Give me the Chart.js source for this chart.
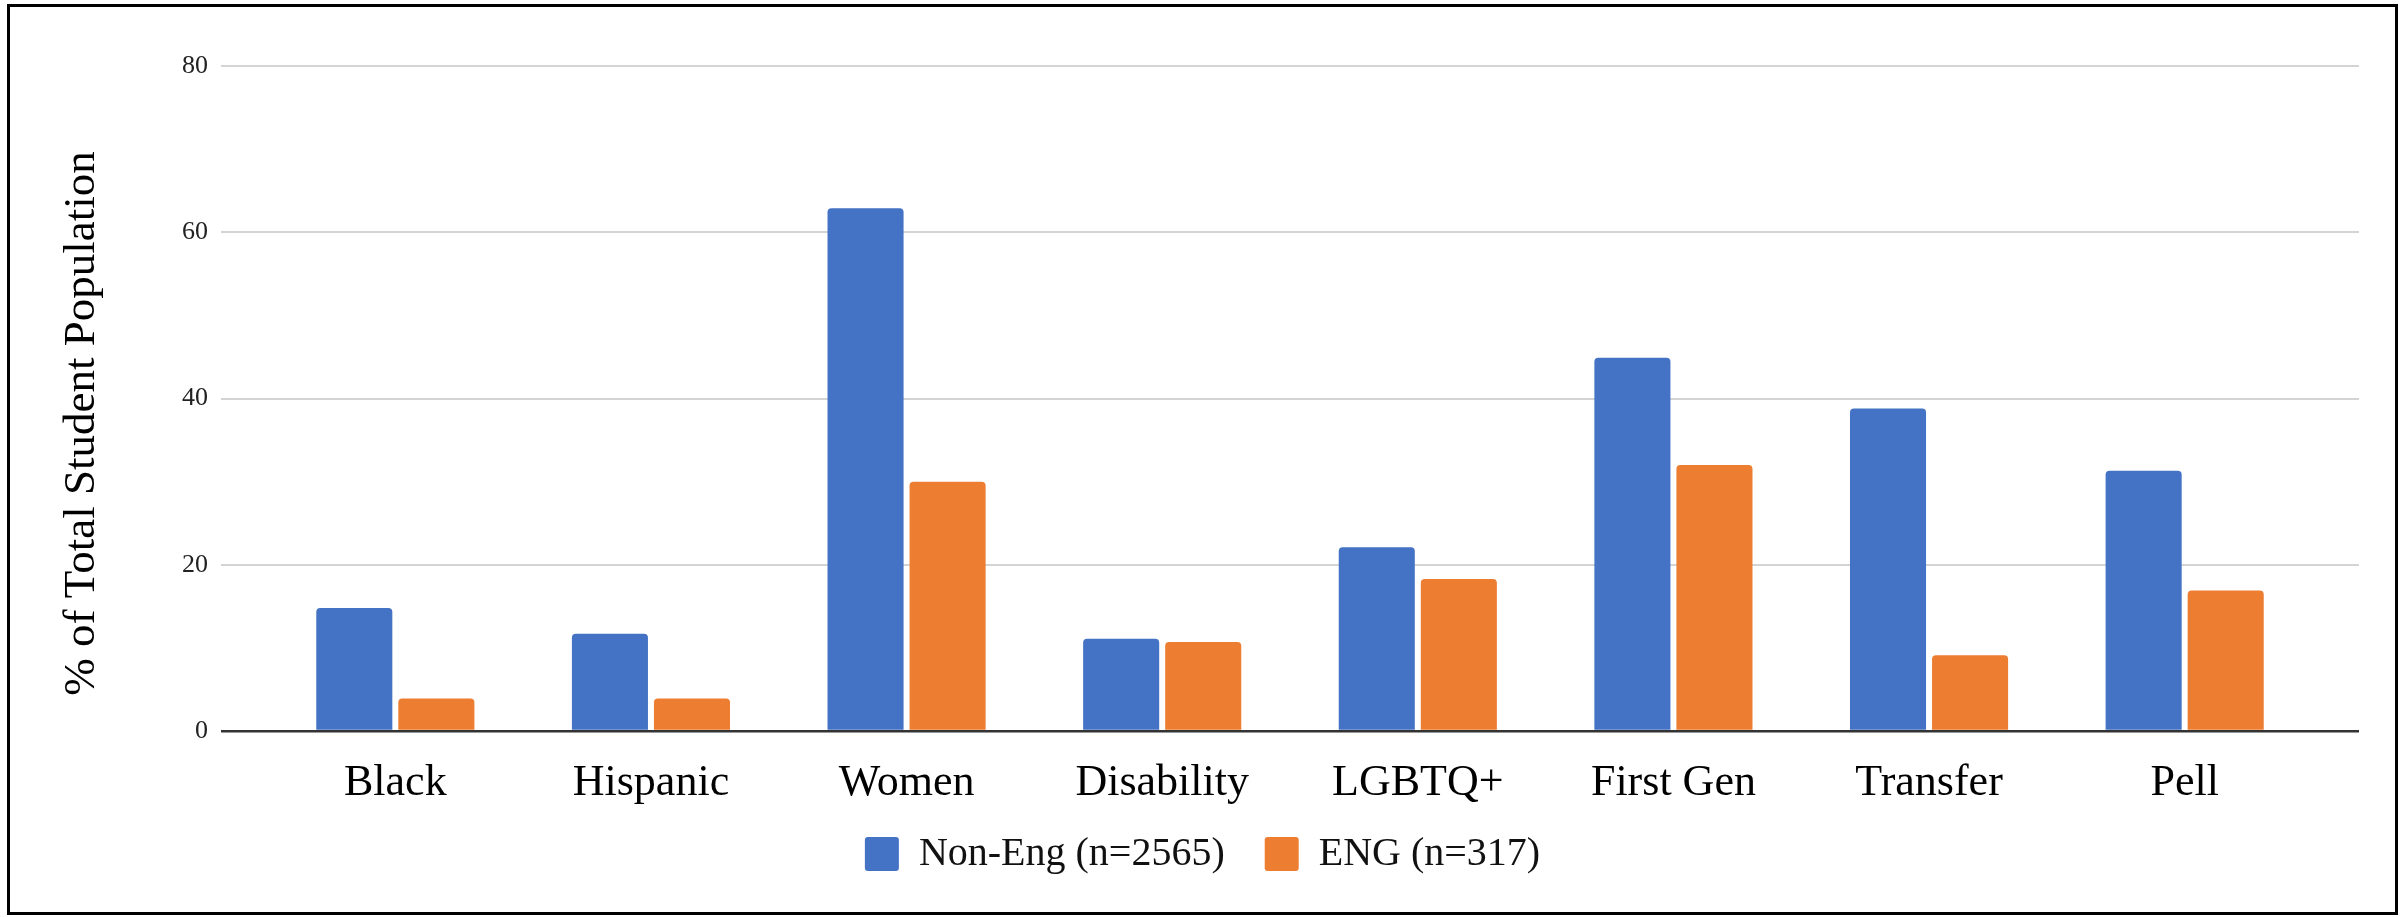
<!DOCTYPE html>
<html>
<head>
<meta charset="utf-8">
<script src="https://cdn.jsdelivr.net/npm/chart.js@4.4.1/dist/chart.umd.min.js"></script>
<style>
  html, body { margin: 0; padding: 0; background: #fff; }
  #wrap { position: relative; width: 2400px; height: 917px; }
  #c { position: absolute; left: 0; top: 0; }
  #frame { position: absolute; left: 7px; top: 4px; width: 2385px; height: 905px;
           border: 3px solid #000; pointer-events: none; }
</style>
</head>
<body>
<div id="wrap">
  <canvas id="c" width="2400" height="917"></canvas>
  <div id="frame"></div>
</div>
<script>
// Share of each student group, in percent of the total student population
const categories = ['Black', 'Hispanic', 'Women', 'Disability', 'LGBTQ+', 'First Gen', 'Transfer', 'Pell'];
const nonEngValues = [14.8, 11.7, 62.9, 11.1, 22.1, 44.9, 38.8, 31.3];
const engValues = [3.9, 3.9, 30.0, 10.7, 18.3, 32.0, 9.1, 16.9];
const seriesNames = ['Non-Eng (n=2565)', 'ENG (n=317)'];
const yTickValues = [0, 20, 40, 60, 80];
const yAxisTitle = '% of Total Student Population';

const SERIF = '"Liberation Serif", "Times New Roman", serif';
const BLUE = '#4472C4';
const ORANGE = '#ED7D31';

// Extra room (in category widths) between the plot edges and the first/last group
const EDGE_PAD = 0.182;

// Rotated y-axis title
const yTitlePlugin = {
  id: 'yTitle',
  afterDraw(chart) {
    const { ctx, chartArea } = chart;
    ctx.save();
    ctx.translate(82, (chartArea.top + chartArea.bottom) / 2 + 25);
    ctx.rotate(-Math.PI / 2);
    ctx.font = '45px ' + SERIF;
    ctx.fillStyle = '#000';
    ctx.textAlign = 'center';
    ctx.textBaseline = 'middle';
    ctx.fillText(yAxisTitle, 0, 0);
    ctx.restore();
  }
};

new Chart(document.getElementById('c'), {
  type: 'bar',
  data: {
    labels: categories,
    datasets: [
      { label: seriesNames[0], data: nonEngValues, backgroundColor: BLUE, borderWidth: 0,
        borderRadius: 4, borderSkipped: 'start' },
      { label: seriesNames[1], data: engValues, backgroundColor: ORANGE, borderWidth: 0,
        borderRadius: 4, borderSkipped: 'start' }
    ]
  },
  options: {
    responsive: false,
    animation: false,
    devicePixelRatio: 1,
    categoryPercentage: 0.642,
    barPercentage: 0.927,
    layout: { padding: { left: 46, right: 41, top: 66, bottom: 33 } },
    plugins: {
      tooltip: { enabled: false },
      legend: {
        position: 'bottom',
        labels: {
          boxWidth: 34,
          boxHeight: 34,
          useBorderRadius: true,
          borderRadius: 3,
          padding: 40,
          color: '#111',
          font: { family: SERIF, size: 40 }
        }
      }
    },
    scales: {
      x: {
        grid: { display: false },
        border: { display: false },
        ticks: { color: '#000', padding: 18, font: { family: SERIF, size: 44 } },
        afterBuildTicks(scale) {
          scale._startValue = -0.5 - EDGE_PAD;
          scale._valueRange = categories.length + 2 * EDGE_PAD;
        },
        afterFit(scale) {
          scale.height = 63;
          // let the category labels run into the legend's empty top padding
          scale._computeLabelArea = () => undefined;
        }
      },
      y: {
        min: yTickValues[0],
        max: yTickValues[yTickValues.length - 1],
        afterBuildTicks(scale) { scale.ticks = yTickValues.map(v => ({ value: v })); },
        border: { display: false },
        grid: {
          drawTicks: false,
          color: ctx => ctx.tick && ctx.tick.value === 0 ? '#333' : '#d4d4d4',
          lineWidth: ctx => ctx.tick && ctx.tick.value === 0 ? 2.5 : 2
        },
        ticks: { color: '#222', padding: 13, font: { family: SERIF, size: 26 } },
        afterFit(scale) { scale.width = 175; }
      }
    }
  },
  plugins: [yTitlePlugin]
});
</script>
</body>
</html>
